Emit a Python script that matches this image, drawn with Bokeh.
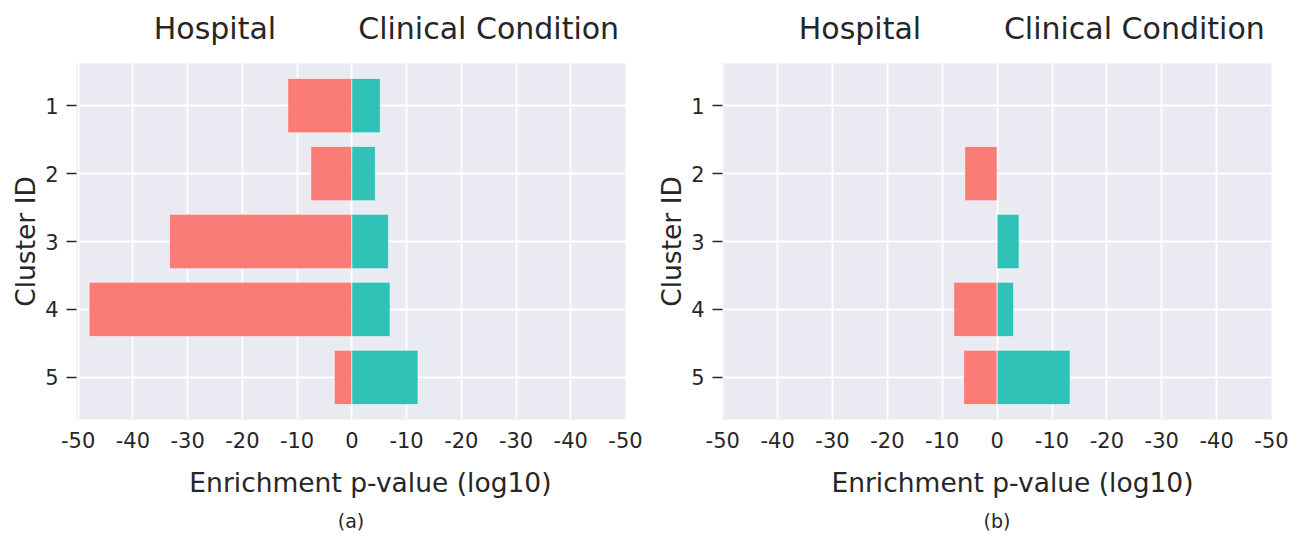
from bokeh.plotting import figure
from bokeh.models import Range1d, FixedTicker, LinearAxis, Title
from bokeh.layouts import row
from bokeh.embed import file_html
from bokeh.resources import INLINE

# ---- data ----
cluster_ids = [1, 2, 3, 4, 5]
hospital_a = [-11.7, -7.5, -33.3, -48.0, -3.2]
clinical_a = [5.2, 4.3, 6.7, 7.0, 12.1]
hospital_b = [0, -5.9, 0, -7.9, -6.1]
clinical_b = [0, 0, 4.0, 3.0, 13.3]
x_ticks = [-50, -40, -30, -20, -10, 0, 10, 20, 30, 40, 50]
x_tick_labels = ["-50", "-40", "-30", "-20", "-10", "0", "-10", "-20", "-30", "-40", "-50"]
group_positions = [-25, 25]
group_labels = ["Hospital", "Clinical Condition"]
captions = ["(a)", "(b)"]
x_label = "Enrichment p-value (log10)"
y_label = "Cluster ID"

FONT = "DejaVu Sans"
TXT = "#262626"
RED = "#FB726D"
TEAL = "#21BEB2"
BG = "#EAEAF2"


def make_panel(hosp, clin, caption, x_start, top_border, right_border, xlabel_pos):
    p = figure(frame_width=549, frame_height=356,
               x_range=Range1d(x_start, 50), y_range=Range1d(5.62, 0.38),
               output_backend="svg", toolbar_location=None, title=None,
               min_border_left=76, min_border_top=top_border,
               min_border_right=right_border, min_border_bottom=60,
               background_fill_color=BG, border_fill_color="white",
               outline_line_color=None)

    # grid
    p.xgrid.ticker = FixedTicker(ticks=x_ticks)
    p.ygrid.ticker = FixedTicker(ticks=cluster_ids)
    for g in (p.xgrid, p.ygrid):
        g.grid_line_color = "white"
        g.grid_line_width = 1.8

    # bars
    hy = [c for c, v in zip(cluster_ids, hosp) if v != 0]
    hv = [v for v in hosp if v != 0]
    cy = [c for c, v in zip(cluster_ids, clin) if v != 0]
    cv = [v for v in clin if v != 0]
    p.hbar(y=hy, left=hv, right=0, height=0.8, fill_color=RED, fill_alpha=0.92,
           line_color="white", line_alpha=0.6, line_width=1)
    p.hbar(y=cy, left=0, right=cv, height=0.8, fill_color=TEAL, fill_alpha=0.92,
           line_color="white", line_alpha=0.6, line_width=1)

    # bottom axis (tick labels)
    xa = p.xaxis[0]
    xa.ticker = FixedTicker(ticks=x_ticks)
    xa.major_label_overrides = {t: l for t, l in zip(x_ticks, x_tick_labels)}
    xa.axis_line_color = None
    xa.major_tick_line_color = None
    xa.minor_tick_line_color = None
    xa.major_tick_out = 0
    xa.major_tick_in = 0
    xa.major_label_standoff = 12
    xa.major_label_text_font = FONT
    xa.major_label_text_font_size = "21px"
    xa.major_label_text_color = TXT

    # x label, centred slightly right of the frame centre as in the reference
    xl = LinearAxis(ticker=FixedTicker(ticks=[xlabel_pos]),
                    major_label_overrides={xlabel_pos: x_label})
    xl.axis_line_color = None
    xl.major_tick_line_color = None
    xl.minor_tick_line_color = None
    xl.major_tick_out = 0
    xl.major_tick_in = 0
    xl.major_label_standoff = 16
    xl.major_label_text_font = FONT
    xl.major_label_text_font_size = "26.5px"
    xl.major_label_text_color = TXT
    p.add_layout(xl, "below")

    # left axis
    ya = p.yaxis[0]
    ya.ticker = FixedTicker(ticks=cluster_ids)
    ya.axis_line_color = None
    ya.minor_tick_line_color = None
    ya.major_tick_line_color = TXT
    ya.major_tick_line_width = 1.5
    ya.major_tick_in = 0
    ya.major_tick_out = 10
    ya.major_label_standoff = 8
    ya.major_label_text_font = FONT
    ya.major_label_text_font_size = "21px"
    ya.major_label_text_color = TXT
    ya.axis_label = y_label
    ya.axis_label_text_font = FONT
    ya.axis_label_text_font_size = "26.5px"
    ya.axis_label_text_font_style = "normal"
    ya.axis_label_text_color = TXT
    ya.axis_label_standoff = 1

    # group headings above
    top = LinearAxis(ticker=FixedTicker(ticks=group_positions),
                     major_label_overrides={t: l for t, l in zip(group_positions, group_labels)})
    top.axis_line_color = None
    top.major_tick_line_color = None
    top.minor_tick_line_color = None
    top.major_tick_out = 0
    top.major_tick_in = 0
    top.major_label_standoff = 18
    top.major_label_text_font = FONT
    top.major_label_text_font_size = "30px"
    top.major_label_text_color = TXT
    p.add_layout(top, "above")

    # caption
    cap = Title(text=caption, align="center", text_font=FONT, text_font_size="19px",
                text_font_style="normal", text_color=TXT, standoff=14)
    p.add_layout(cap, "below")
    return p


pa = make_panel(hospital_a, clinical_a, captions[0], -50.3, 63, 21, 3.4)
pb = make_panel(hospital_b, clinical_b, captions[1], -50.05, 61, 20, 2.8)
layout = row(pa, pb)

open("out.html", "w").write(file_html(layout, INLINE))
